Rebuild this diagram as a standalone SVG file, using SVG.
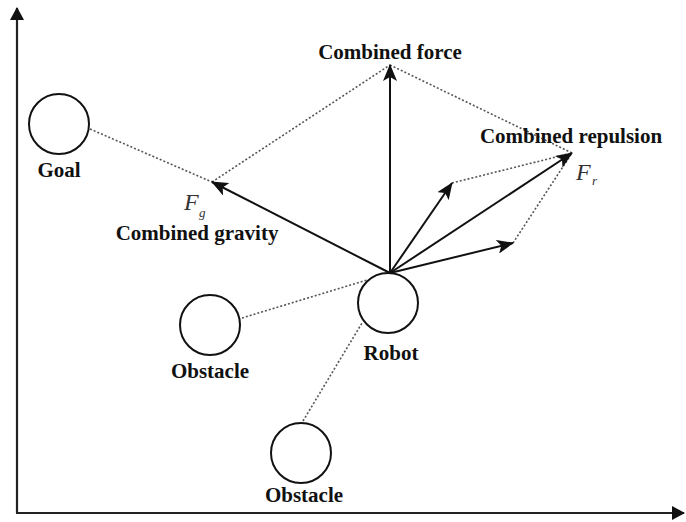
<svg xmlns="http://www.w3.org/2000/svg" width="686" height="522" viewBox="0 0 686 522">
  <style>
    .lbl { font-family: "Liberation Serif", "Times New Roman", serif; font-weight: bold; font-size: 21px; fill: #111; text-anchor: middle; }
    .sym { font-family: "Liberation Serif", "Times New Roman", serif; font-style: italic; font-size: 24px; fill: #333; }
    .sub { font-family: "Liberation Serif", "Times New Roman", serif; font-style: italic; font-size: 13px; fill: #333; }
    .node { fill: #fff; stroke: #111; stroke-width: 2; }
    .vec { stroke: #111; stroke-width: 2; fill: none; }
    .dot { stroke: #555; stroke-width: 1.6; stroke-dasharray: 2 2; fill: none; }
    .axis { stroke: #222; stroke-width: 2.2; fill: none; }
  </style>
  <defs>
    <marker id="ah" markerUnits="userSpaceOnUse" markerWidth="18" markerHeight="14" refX="16" refY="7" orient="auto">
      <path d="M0,0 L17,7 L0,14 L4,7 Z" fill="#111"/>
    </marker>
    <marker id="axh" markerUnits="userSpaceOnUse" markerWidth="14" markerHeight="14" refX="12" refY="7" orient="auto">
      <path d="M0,0 L13,7 L0,14 Z" fill="#111"/>
    </marker>
  </defs>

  <g id="axes">
    <line class="axis" x1="17" y1="513" x2="17" y2="8" marker-end="url(#axh)"/>
    <line class="axis" x1="16" y1="513" x2="684" y2="513" marker-end="url(#axh)"/>
  </g>

  <g id="connectors">
    <line class="dot" x1="90" y1="129" x2="212" y2="182"/>
    <line class="dot" x1="212" y1="182" x2="390" y2="65"/>
    <line class="dot" x1="390" y1="65" x2="572" y2="153"/>
    <line class="dot" x1="452" y1="183" x2="572" y2="153"/>
    <line class="dot" x1="513" y1="243" x2="572" y2="153"/>
    <line class="dot" x1="242" y1="318" x2="367" y2="280"/>
    <line class="dot" x1="303" y1="421" x2="362" y2="323"/>
    <line class="vec" x1="390" y1="273" x2="212" y2="182" marker-end="url(#ah)"/>
    <line class="vec" x1="390" y1="273" x2="390" y2="65" marker-end="url(#ah)"/>
    <line class="vec" x1="390" y1="273" x2="452" y2="183" marker-end="url(#ah)"/>
    <line class="vec" x1="390" y1="273" x2="572" y2="153" marker-end="url(#ah)"/>
    <line class="vec" x1="390" y1="273" x2="513" y2="243" marker-end="url(#ah)"/>
  </g>

  <g id="goal">
    <ellipse class="node" cx="59" cy="124" rx="30" ry="30"/>
    <text class="lbl" x="59" y="177">Goal</text>
  </g>

  <g id="robot">
    <ellipse class="node" cx="388" cy="303" rx="30" ry="30"/>
    <text class="lbl" x="391" y="360">Robot</text>
  </g>

  <g id="obstacle1">
    <ellipse class="node" cx="210" cy="325" rx="30" ry="30"/>
    <text class="lbl" x="210" y="378">Obstacle</text>
  </g>

  <g id="obstacle2">
    <ellipse class="node" cx="301" cy="453" rx="30" ry="30"/>
    <text class="lbl" x="304" y="502">Obstacle</text>
  </g>

  <g id="combined-force">
    <text class="lbl" x="390" y="59">Combined force</text>
  </g>

  <g id="combined-gravity">
    <text class="sym" x="184" y="210">F</text>
    <text class="sub" x="199" y="217">g</text>
    <text class="lbl" x="197" y="240">Combined gravity</text>
  </g>

  <g id="combined-repulsion">
    <text class="lbl" x="571" y="143">Combined repulsion</text>
    <text class="sym" x="576" y="180">F</text>
    <text class="sub" x="592" y="185">r</text>
  </g>
</svg>
